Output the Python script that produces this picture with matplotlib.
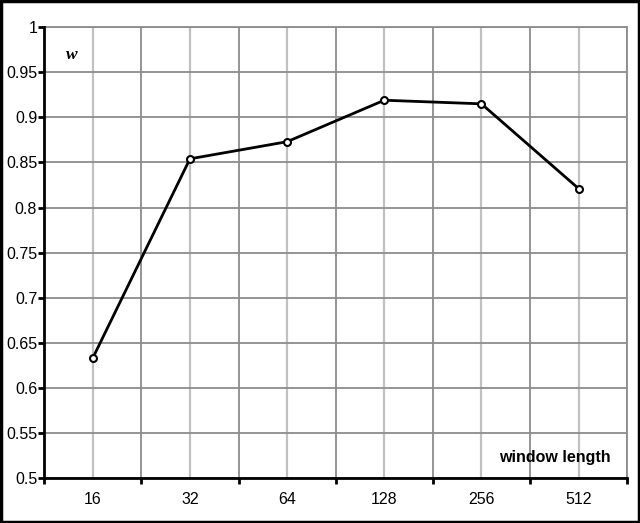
import matplotlib.pyplot as plt
from matplotlib.patches import Rectangle
from matplotlib.ticker import FuncFormatter

windows = ["16", "32", "64", "128", "256", "512"]
w_values = [0.633, 0.854, 0.873, 0.919, 0.915, 0.821]

plt.rcParams["font.family"] = ["Liberation Sans", "DejaVu Sans"]

fig = plt.figure(figsize=(6.4, 5.23), dpi=100)
ax = fig.add_axes([0.069, 0.086, 0.911, 0.862])

x = range(len(windows))
ax.plot(x, w_values, color="black", lw=2, marker="o", ms=5,
        mfc="white", mec="black", mew=1.5, zorder=5, clip_on=False)

ax.set_xlim(-0.5, len(windows) - 0.5)
ax.set_ylim(0.5, 1.0)

# boundaries carry the tick marks, centres carry the labels
ax.set_xticks([i - 0.5 for i in range(len(windows) + 1)])
ax.set_xticklabels([])
ax.set_xticks(list(x), minor=True)
ax.set_xticklabels(windows, minor=True)
ax.tick_params(axis="x", which="major", length=4, width=2, direction="out", color="black")
ax.tick_params(axis="x", which="minor", length=0, pad=10, labelsize=11.5)

ax.set_yticks([0.5 + 0.05 * i for i in range(11)])
ax.yaxis.set_major_formatter(FuncFormatter(lambda v, p: f"{v:g}"))
ax.tick_params(axis="y", length=4, width=2, direction="out", labelsize=11.5, pad=1)

ax.grid(True, axis="y", color="#8c8c8c", lw=1.3, zorder=1)
ax.grid(True, axis="x", which="major", color="#8c8c8c", lw=1.3, zorder=1)
ax.grid(True, axis="x", which="minor", color="#c0c0c0", lw=1.6, zorder=1)

for side in ["left", "bottom"]:
    ax.spines[side].set_linewidth(2)
    ax.spines[side].set_color("black")
    ax.spines[side].set_zorder(6)
for side in ["top", "right"]:
    ax.spines[side].set_linewidth(1.3)
    ax.spines[side].set_color("#8c8c8c")

ax.text(0.038, 0.955, "w", transform=ax.transAxes, fontsize=12.5,
        fontstyle="italic", fontweight="bold", family="Liberation Serif",
        ha="left", va="top")
ax.text(0.972, 0.045, "window length", transform=ax.transAxes, fontsize=11.5,
        fontweight="bold", ha="right", va="center")

fig.patches.append(Rectangle((0.002, 0.002), 0.996, 0.996, transform=fig.transFigure,
                             fill=False, edgecolor="black", lw=2.5))

fig.savefig("out.png", dpi=100)
